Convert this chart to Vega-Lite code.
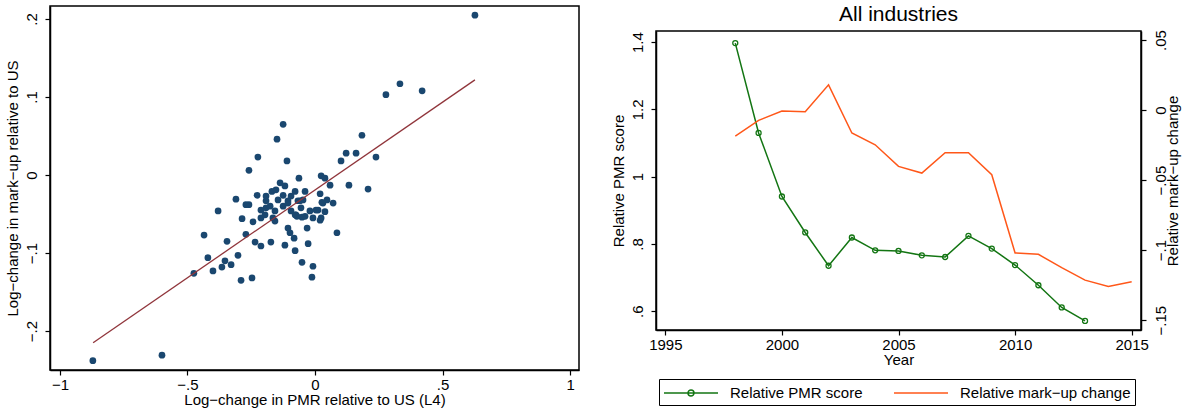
{
  "$schema": "https://vega.github.io/schema/vega-lite/v6.json",
  "padding": {"left": 4, "top": 3, "right": 5, "bottom": 0},
  "background": "white",
  "config": {
    "font": "Liberation Sans",
    "view": {"stroke": "black", "strokeWidth": 1.5},
    "axis": {"grid": false, "domainColor": "black", "domainWidth": 1.5, "tickColor": "black", "tickWidth": 1.2, "tickSize": 5, "labelFontSize": 15, "titleFontSize": 15, "labelColor": "black", "titleColor": "black", "titleFontWeight": "normal", "labelFont": "Liberation Sans", "titleFont": "Liberation Sans", "labelFlush": false, "labelOverlap": false},
    "title": {"font": "Liberation Sans", "fontSize": 21, "fontWeight": "normal", "color": "black", "anchor": "middle"}
  },
  "datasets": {
    "scatter": [
      {"x": -0.871, "y": -0.238}, {"x": -0.600, "y": -0.231}, {"x": -0.475, "y": -0.126}, {"x": -0.400, "y": -0.123},
      {"x": -0.365, "y": -0.118}, {"x": -0.353, "y": -0.110}, {"x": -0.329, "y": -0.115}, {"x": -0.302, "y": -0.103},
      {"x": -0.420, "y": -0.106}, {"x": -0.290, "y": -0.135}, {"x": -0.247, "y": -0.132}, {"x": -0.435, "y": -0.077},
      {"x": -0.345, "y": -0.085}, {"x": -0.271, "y": -0.076}, {"x": -0.235, "y": -0.086}, {"x": -0.212, "y": -0.091},
      {"x": -0.173, "y": -0.086}, {"x": -0.118, "y": -0.090}, {"x": -0.078, "y": -0.097}, {"x": -0.027, "y": -0.088},
      {"x": -0.051, "y": -0.112}, {"x": -0.008, "y": -0.117}, {"x": -0.012, "y": -0.131}, {"x": -0.106, "y": -0.068},
      {"x": -0.098, "y": -0.074}, {"x": -0.082, "y": -0.081}, {"x": -0.031, "y": -0.068}, {"x": 0.086, "y": -0.074},
      {"x": -0.380, "y": -0.046}, {"x": -0.310, "y": -0.031}, {"x": -0.227, "y": -0.026}, {"x": -0.259, "y": -0.038},
      {"x": -0.271, "y": -0.038}, {"x": -0.286, "y": -0.056}, {"x": -0.243, "y": -0.060}, {"x": -0.212, "y": -0.055},
      {"x": -0.196, "y": -0.051}, {"x": -0.192, "y": -0.042}, {"x": -0.157, "y": -0.046}, {"x": -0.212, "y": -0.045},
      {"x": -0.165, "y": -0.055}, {"x": -0.157, "y": -0.059}, {"x": -0.125, "y": -0.040}, {"x": -0.094, "y": -0.046},
      {"x": -0.075, "y": -0.051}, {"x": -0.039, "y": -0.053}, {"x": -0.008, "y": -0.055}, {"x": 0.012, "y": -0.045},
      {"x": 0.024, "y": -0.055}, {"x": -0.020, "y": -0.046}, {"x": -0.055, "y": -0.042}, {"x": -0.192, "y": -0.033},
      {"x": -0.176, "y": -0.040}, {"x": -0.145, "y": -0.032}, {"x": -0.125, "y": -0.026}, {"x": -0.106, "y": -0.033},
      {"x": -0.094, "y": -0.027}, {"x": -0.067, "y": -0.033}, {"x": -0.047, "y": -0.032}, {"x": 0.031, "y": -0.036},
      {"x": 0.071, "y": -0.036}, {"x": 0.047, "y": -0.032}, {"x": 0.039, "y": -0.047}, {"x": 0.020, "y": -0.058},
      {"x": 0.004, "y": -0.045}, {"x": -0.192, "y": -0.027}, {"x": -0.169, "y": -0.021}, {"x": -0.153, "y": -0.019},
      {"x": -0.137, "y": -0.010}, {"x": -0.118, "y": -0.014}, {"x": -0.078, "y": -0.021}, {"x": -0.039, "y": -0.021},
      {"x": -0.063, "y": -0.004}, {"x": 0.024, "y": -0.001}, {"x": 0.039, "y": -0.004}, {"x": 0.020, "y": -0.024},
      {"x": 0.059, "y": -0.013}, {"x": 0.133, "y": -0.013}, {"x": 0.208, "y": -0.018}, {"x": 0.102, "y": 0.018},
      {"x": 0.122, "y": 0.028}, {"x": 0.161, "y": 0.028}, {"x": 0.184, "y": 0.051}, {"x": 0.239, "y": 0.023},
      {"x": 0.278, "y": 0.103}, {"x": 0.333, "y": 0.117}, {"x": 0.420, "y": 0.108}, {"x": 0.627, "y": 0.205},
      {"x": -0.125, "y": 0.065}, {"x": -0.149, "y": 0.046}, {"x": -0.224, "y": 0.023}, {"x": -0.110, "y": 0.018},
      {"x": -0.259, "y": 0.006}, {"x": -0.071, "y": -0.053}, {"x": -0.051, "y": -0.054}, {"x": -0.078, "y": -0.051},
      {"x": -0.059, "y": -0.033}, {"x": -0.106, "y": -0.036}, {"x": 0.027, "y": -0.035}
    ],
    "fit": [
      {"x": -0.87, "y": -0.215},
      {"x": 0.627, "y": 0.122}
    ],
    "ts": [
      {"year": 1998, "pmr": 1.397, "markup": -0.0186},
      {"year": 1999, "pmr": 1.130, "markup": -0.0074},
      {"year": 2000, "pmr": 0.941, "markup": -0.0007},
      {"year": 2001, "pmr": 0.834, "markup": -0.0012},
      {"year": 2002, "pmr": 0.735, "markup": 0.018},
      {"year": 2003, "pmr": 0.819, "markup": -0.0164},
      {"year": 2004, "pmr": 0.781, "markup": -0.0248},
      {"year": 2005, "pmr": 0.779, "markup": -0.0402},
      {"year": 2006, "pmr": 0.766, "markup": -0.045},
      {"year": 2007, "pmr": 0.761, "markup": -0.0305},
      {"year": 2008, "pmr": 0.824, "markup": -0.0305},
      {"year": 2009, "pmr": 0.786, "markup": -0.0462},
      {"year": 2010, "pmr": 0.737, "markup": -0.102},
      {"year": 2011, "pmr": 0.677, "markup": -0.103},
      {"year": 2012, "pmr": 0.611, "markup": -0.1125},
      {"year": 2013, "pmr": 0.571, "markup": -0.1214},
      {"year": 2014, "markup": -0.126},
      {"year": 2015, "markup": -0.1226}
    ]
  },
  "spacing": 30,
  "hconcat": [
    {
      "width": 529,
      "height": 364,
      "layer": [
        {
          "data": {"name": "scatter"},
          "mark": {"type": "circle", "size": 45, "color": "#1a476f", "opacity": 1},
          "encoding": {
            "x": {"field": "x", "type": "quantitative",
              "scale": {"domain": [-1.039, 1.035], "nice": false, "zero": false},
              "axis": {"title": "Log\u2212change in PMR relative to US (L4)", "values": [-1, -0.5, 0, 0.5, 1], "labelPadding": 2, "titlePadding": 0,
                "labelExpr": "datum.value == 0 ? '0' : replace(replace(format(datum.value, '~g'), '0.', '.'), '-', '\u2212')"}},
            "y": {"field": "y", "type": "quantitative",
              "scale": {"domain": [-0.25, 0.2167], "nice": false, "zero": false},
              "axis": {"title": "Log\u2212change in mark\u2212up relative to US", "values": [-0.2, -0.1, 0, 0.1, 0.2], "labelAngle": -90, "labelAlign": "center", "labelBaseline": "bottom", "labelPadding": 6, "titlePadding": 4,
                "labelExpr": "datum.value == 0 ? '0' : replace(replace(format(datum.value, '~g'), '0.', '.'), '-', '\u2212')"}}
          }
        },
        {
          "data": {"name": "fit"},
          "mark": {"type": "line", "color": "#90353b", "strokeWidth": 1.3},
          "encoding": {
            "x": {"field": "x", "type": "quantitative"},
            "y": {"field": "y", "type": "quantitative"}
          }
        }
      ]
    },
    {
      "spacing": 2,
      "vconcat": [
        {
          "width": 485,
          "height": 1,
          "view": {"stroke": null},
          "title": {"text": "All industries", "orient": "bottom", "offset": -5},
          "data": {"values": [{}]},
          "mark": {"type": "point", "opacity": 0},
          "encoding": {}
        },
        {
          "width": 485,
          "height": 299,
          "data": {"name": "ts"},
          "layer": [
            {
              "mark": {"type": "line", "strokeWidth": 1.5, "point": {"shape": "circle", "filled": false, "size": 25, "strokeWidth": 1.3}},
              "encoding": {
                "x": {"field": "year", "type": "quantitative",
                  "scale": {"domain": [1994.6, 2015.4], "nice": false, "zero": false},
                  "axis": {"title": "Year", "values": [1995, 2000, 2005, 2010, 2015], "format": "d", "labelPadding": 2, "titlePadding": 0}},
                "y": {"field": "pmr", "type": "quantitative",
                  "scale": {"domain": [0.544, 1.433], "nice": false, "zero": false},
                  "axis": {"title": "Relative PMR score", "values": [0.6, 0.8, 1, 1.2, 1.4], "labelAngle": -90, "labelAlign": "center", "labelBaseline": "bottom", "labelPadding": 6, "titlePadding": 4,
                    "labelExpr": "datum.value == 0 ? '0' : replace(replace(format(datum.value, '~g'), '0.', '.'), '-', '\u2212')"}},
                "color": {"datum": "Relative PMR score", "type": "nominal",
                  "scale": {"domain": ["Relative PMR score", "Relative mark\u2212up change"], "range": ["#137513", "#ff5719"]},
                  "legend": {"title": null, "orient": "none", "legendX": 609, "legendY": 373, "direction": "horizontal", "columns": 2,
                    "strokeColor": "black", "padding": 4, "symbolSize": 324, "symbolStrokeWidth": 1.5, "symbolFillColor": "transparent",
                    "labelFontSize": 15, "labelFont": "Liberation Sans", "labelColor": "black", "labelLimit": 300, "labelOffset": 47, "columnPadding": 28,
                    "encode": {"symbols": {"update": {"shape": {"signal": "datum.value === 'Relative PMR score' ? 'M-1,0H5M2.33,0A0.33,0.33,0,1,1,1.67,0A0.33,0.33,0,1,1,2.33,0' : 'M-1,0H5'"}, "fill": {"value": "transparent"}}}}}}
              }
            },
            {
              "mark": {"type": "line", "strokeWidth": 1.5},
              "encoding": {
                "x": {"field": "year", "type": "quantitative"},
                "y": {"field": "markup", "type": "quantitative",
                  "scale": {"domain": [-0.157, 0.0564], "nice": false, "zero": false},
                  "axis": {"orient": "right", "title": "Relative mark\u2212up change", "titleColor": "black", "values": [-0.15, -0.1, -0.05, 0, 0.05], "labelAngle": -90, "labelAlign": "center", "labelBaseline": "top", "labelPadding": 7, "titleAngle": -90, "titleBaseline": "top", "titlePadding": -3,
                    "labelExpr": "datum.value == 0 ? '0' : replace(replace(format(datum.value, '~g'), '0.', '.'), '-', '\u2212')"}},
                "color": {"datum": "Relative mark\u2212up change", "type": "nominal"}
              }
            }
          ],
          "resolve": {"scale": {"y": "independent"}}
        }
      ]
    }
  ]
}
